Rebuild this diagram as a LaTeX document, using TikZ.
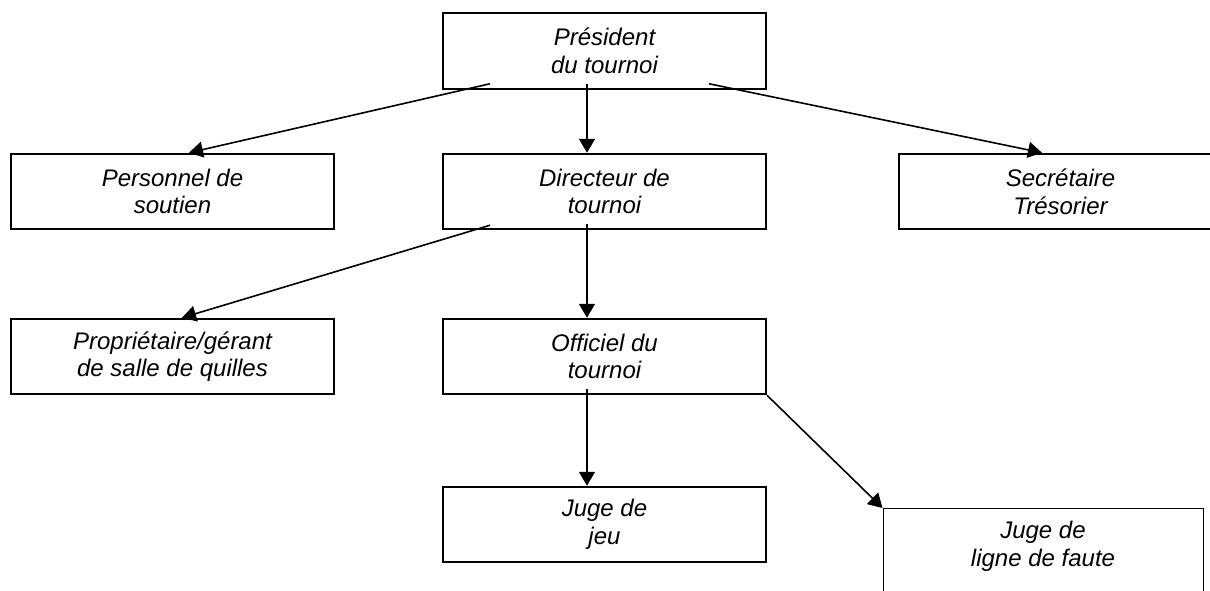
\documentclass[tikz,border=0pt]{standalone}
\usepackage{fontspec}
\setmainfont{Liberation Sans}
\usetikzlibrary{arrows.meta}
\tikzset{font=\fontsize{12}{13.8}\selectfont\itshape}
\tikzset{orgbox/.style={draw,line width=1pt,align=center,inner sep=0pt,minimum width=161.5pt,minimum height=37.75pt}}
\tikzset{link/.style={line width=0.8pt,-{Triangle[length=7pt,width=8pt]}}}

\begin{document}
\begin{tikzpicture}[x=0.5pt,y=-0.5pt]
\useasboundingbox (0,0) rectangle (1210,590);
% boxes
\node[orgbox] (pres) at (604.5,51) {Président\\du tournoi};
\node[orgbox] (pers) at (172.5,191.5) {Personnel de\\soutien};
\node[orgbox] (dir) at (604.5,191.5) {Directeur de\\tournoi};
\node[orgbox] (sec) at (1060.5,191.5) {Secrétaire\\Trésorier};
\node[orgbox] (prop) at (172.5,356.5) {Propriétaire/gérant\\de salle de quilles};
\node[orgbox] (off) at (604.5,356.5) {Officiel du\\tournoi};
\node[orgbox] (jeu) at (604.5,524.5) {Juge de\\jeu};
\node[orgbox,line width=0.5pt,minimum width=160pt,minimum height=48pt,anchor=north] (ligne) at (1043,508) {Juge de\\ligne de faute\\[-1.3pt]};
% links
\draw[link] ([xshift=24pt,yshift=3pt]pres.south west) -- ([xshift=8.25pt]pers.north);
\draw[link] ([xshift=-8.75pt,yshift=3pt]pres.south) -- ([xshift=-8.75pt]dir.north);
\draw[link] ([xshift=-29pt,yshift=3pt]pres.south east) -- ([xshift=-9.25pt]sec.north);
\draw[link] ([xshift=24pt,yshift=2.5pt]dir.south west) -- ([xshift=4.75pt]prop.north);
\draw[link] ([xshift=-8.75pt,yshift=3pt]dir.south) -- ([xshift=-8.75pt]off.north);
\draw[link] ([xshift=-8.75pt,yshift=3pt]off.south) -- ([xshift=-8.75pt]jeu.north);
\draw[link] (off.south east) -- (ligne.north west);
\end{tikzpicture}
\end{document}
